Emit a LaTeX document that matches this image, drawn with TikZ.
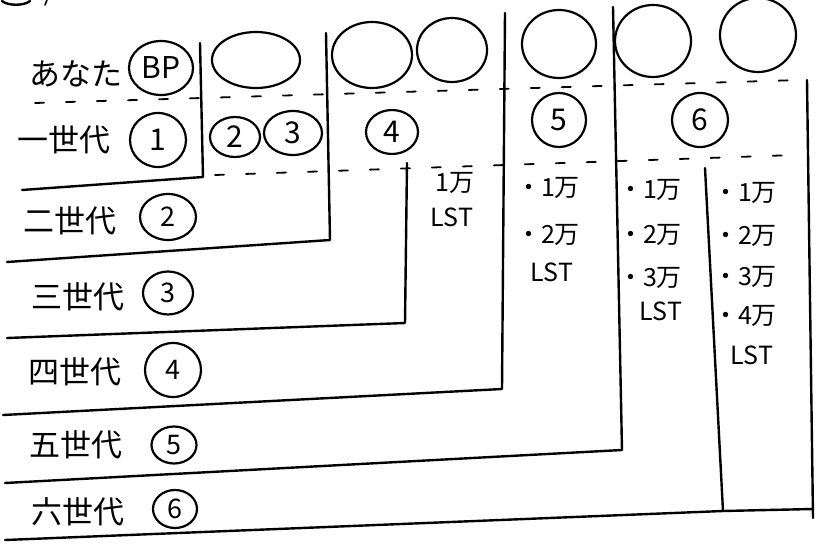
\documentclass[tikz,border=0pt]{standalone}
\usepackage{fontspec}
\newfontfamily\jp{Noto Sans CJK JP}
\usetikzlibrary{shapes.geometric}
\begin{document}
\begin{tikzpicture}[x=1pt,y=-1pt,
  pen/.style={line width=2.4pt, line cap=round, line join=round},
  dline/.style={line width=1.8pt, dash pattern=on 9pt off 22pt, line cap=round},
  lbl/.style={font=\jp\fontsize{31}{31}\selectfont, inner sep=0pt},
  val/.style={font=\jp\fontsize{25}{25}\selectfont, inner sep=0pt},
  ring/.style={draw, ellipse, line width=2.2pt, inner sep=0pt, font=\jp\fontsize{30}{30}\selectfont},
  sring/.style={ring, font=\jp\fontsize{27}{27}\selectfont},
]
\useasboundingbox (0,0) rectangle (820,549);

% fragment at the top-left edge
\draw[pen] (2,1) .. controls (8,6) and (24,6) .. (30,1);
\draw[pen, line width=1.6pt] (47,0) -- (45,5);

% row labels
\node[lbl] (you) at (76,74) {あなた};
\node[lbl] (g1) at (64,140) {一世代};
\node[lbl] (g2) at (70,221) {二世代};
\node[lbl] (g3) at (78,297) {三世代};
\node[lbl] (g4) at (75,372) {四世代};
\node[lbl] (g5) at (76,445) {五世代};
\node[lbl] (g6) at (78,512) {六世代};

% circles beside row labels
\node[ring, minimum width=64pt, minimum height=54pt] (bp) at (161,68) {BP};
\node[ring, minimum width=56pt, minimum height=54pt] (c1) at (158,140) {1};
\node[sring, minimum width=56pt, minimum height=46pt] (r2) at (168,217) {2};
\node[sring, minimum width=50pt, minimum height=43pt] (r3) at (168,293) {3};
\node[sring, minimum width=56pt, minimum height=54pt] (r4) at (173,370) {4};
\node[sring, minimum width=45pt, minimum height=37pt] (r5) at (174,445) {5};
\node[sring, minimum width=44pt, minimum height=38pt] (r6) at (175,509) {6};

% top-row empty circles
\node[ring, minimum width=88pt, minimum height=56pt] (e2) at (256,60) {};
\node[ring, minimum width=80pt, minimum height=66pt] (e3a) at (372,55) {};
\node[ring, minimum width=70pt, minimum height=64pt] (e3b) at (452,50) {};
\node[ring, minimum width=74pt, minimum height=68pt] (e5) at (559,44) {};
\node[ring, minimum width=76pt, minimum height=72pt] (e6a) at (653,41) {};
\node[ring, minimum width=76pt, minimum height=74pt] (e6b) at (758,35) {};

% first-generation numbered circles
\node[ring, minimum width=50pt, minimum height=40pt] (c2) at (235,137) {2};
\node[ring, minimum width=58pt, minimum height=44pt] (c3) at (293,133) {3};
\node[ring, minimum width=52pt, minimum height=44pt] (c4) at (392,132) {4};
\node[ring, minimum width=54pt, minimum height=54pt] (c5) at (559,120) {5};
\node[ring, minimum width=56pt, minimum height=54pt] (c6) at (700,120) {6};

% block outlines
\draw[pen] (200,43) -- (203,177) -- (22,190);
\draw[pen] (326,33) -- (330,240) -- (7,262);
\draw[pen] (407,163) -- (405,323) -- (7,338);
\draw[pen] (505,13) -- (502,389) -- (3,415);
\draw[pen] (613,7) -- (622,450) -- (5,483);
\draw[pen] (705,168) -- (723,511) -- (5,540);
\draw[pen] (723,511) -- (813,509);
\draw[pen] (807,80) -- (813,518);

% dashed separators
\draw[dline] (35,103) -- (800,80);
\draw[dline] (215,175) -- (795,155);

% amounts
\node[val] (a4a) at (455,183) {1万};
\node[val] (a4b) at (452,217) {LST};

\node[val] (a5a) at (548,188) {・1万};
\node[val] (a5b) at (548,235) {・2万};
\node[val] (a5c) at (552,272) {LST};

\node[val] (a6a) at (650,190) {・1万};
\node[val] (a6b) at (650,235) {・2万};
\node[val] (a6c) at (650,278) {・3万};
\node[val] (a6d) at (661,311) {LST};

\node[val] (b6a) at (745,193) {・1万};
\node[val] (b6b) at (745,236) {・2万};
\node[val] (b6c) at (745,277) {・3万};
\node[val] (b6d) at (745,316) {・4万};
\node[val] (b6e) at (752,355) {LST};
\end{tikzpicture}
\end{document}
